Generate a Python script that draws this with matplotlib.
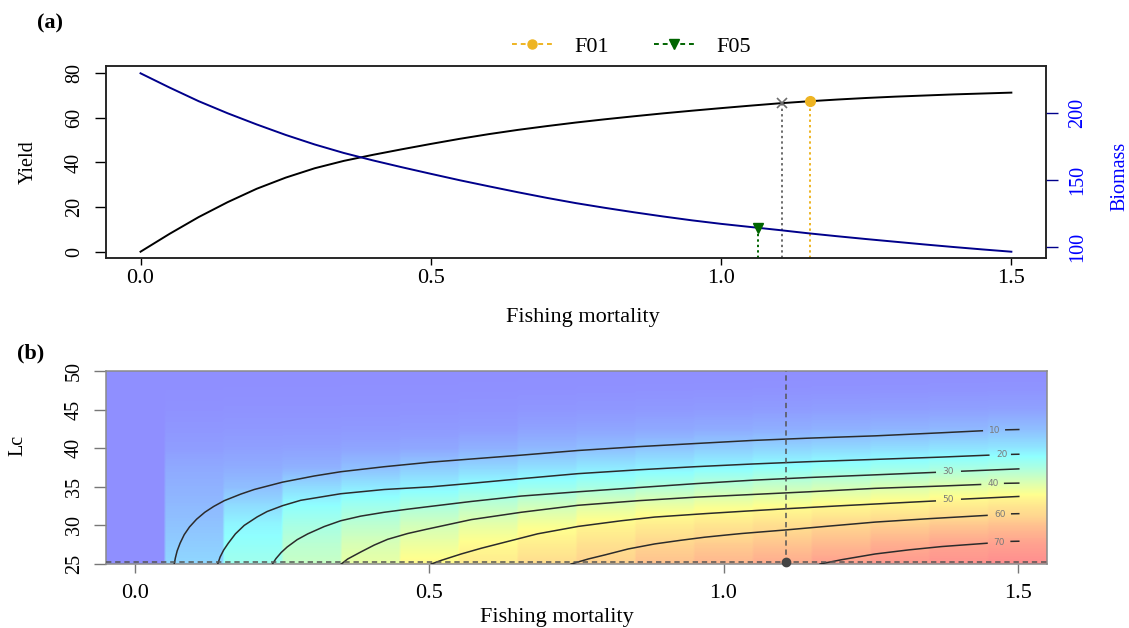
import numpy as np
import matplotlib
matplotlib.use("Agg")
import matplotlib.pyplot as plt
from matplotlib.colors import LinearSegmentedColormap, Normalize
from matplotlib.lines import Line2D

plt.rcParams['font.family'] = 'Liberation Serif'

W, H = 1129, 628


def fx(px):
    return px / W


def fy(py):
    return 1 - py / H


# ---- panel (a): yield and biomass per recruit against F ----
fm = np.linspace(0, 1.5, 31)
yield_pr = [0.0, 8.0, 15.5, 22.2, 28.2, 33.2, 37.4, 40.7, 43.4, 45.9, 48.3,
            50.6, 52.7, 54.6, 56.3, 57.9, 59.35, 60.7, 62.0, 63.2, 64.35,
            65.45, 66.5, 67.4, 68.2, 68.9, 69.5, 70.0, 70.5, 70.9, 71.3]
biomass_pr = [229.3, 218.7, 208.6, 199.6, 191.3, 183.5, 176.4, 170.1, 164.6,
              159.5, 154.6, 149.8, 145.3, 140.9, 136.7, 132.8, 129.3, 126.0,
              122.9, 120.0, 117.4, 115.1, 112.8, 110.4, 108.2, 106.1, 104.1,
              102.1, 100.2, 98.4, 96.7]

fmax, ymax = 1.105, 66.8
f01, y01 = 1.153, 67.6
f05, b05 = 1.063, 114.6

# ---- panel (b): yield isopleths over F and Lc ----
fm_cells = np.linspace(0, 1.5, 16)
lc_rows = [25, 27.5, 30, 32.5, 35, 37.5, 40, 42.5, 45, 47.5, 50]
yield_grid = [
    [0, 14.5, 26.5, 35.5, 43.0, 49.8, 54.0, 58.3, 61.3, 64.0, 66.2, 68.3, 70.7, 72.0, 73.0, 74.0],
    [0, 12.5, 23.6, 32.5, 39.3, 44.2, 49.2, 53.1, 56.8, 60.4, 62.0, 63.6, 65.6, 67.9, 69.9, 70.6],
    [0, 10.5, 20.8, 28.2, 33.3, 38.0, 42.6, 46.7, 50.7, 53.5, 55.7, 57.7, 60.1, 61.5, 63.0, 64.2],
    [0, 8.7, 15.6, 22.5, 26.3, 29.6, 33.5, 37.4, 41.2, 43.8, 46.2, 47.9, 50.0, 51.7, 53.9, 55.5],
    [0, 7.0, 9.6, 15.2, 18.0, 20.0, 23.2, 25.6, 28.1, 30.6, 33.3, 35.6, 37.5, 39.4, 41.6, 42.8],
    [0, 5.4, 6.0, 7.0, 9.7, 12.2, 14.3, 16.3, 18.0, 19.3, 21.2, 22.9, 24.4, 26.0, 27.9, 28.9],
    [0, 3.0, 3.6, 3.8, 4.5, 5.0, 6.8, 8.3, 9.6, 11.1, 12.6, 13.9, 14.8, 15.8, 16.9, 17.5],
    [0, 1.8, 2.0, 2.0, 2.2, 2.4, 2.8, 4.0, 4.6, 5.2, 5.8, 6.4, 7.0, 7.6, 8.3, 9.6],
    [0, 0.8, 1.0, 1.0, 1.0, 1.1, 1.3, 1.7, 2.0, 2.3, 2.6, 2.9, 3.2, 3.4, 3.7, 3.9],
    [0, 0.3, 0.35, 0.35, 0.4, 0.4, 0.5, 0.6, 0.7, 0.8, 0.9, 1.0, 1.1, 1.2, 1.3, 1.4],
    [0, 0, 0, 0, 0, 0, 0, 0.1, 0.1, 0.1, 0.1, 0.1, 0.1, 0.1, 0.1, 0.1],
]

# isopleths: main run up to the label gap
iso_main = {
    10: ([0.066, 0.068, 0.071, 0.076, 0.083, 0.092, 0.104, 0.118, 0.133, 0.151, 0.179,
          0.202, 0.250, 0.304, 0.349, 0.423, 0.503, 0.571, 0.656, 0.752, 0.855, 0.951,
          1.048, 1.144, 1.258, 1.371, 1.440],
         [25.0, 25.8, 26.7, 27.7, 28.8, 29.8, 30.8, 31.7, 32.45, 33.2, 34.05,
          34.65, 35.6, 36.4, 36.95, 37.6, 38.2, 38.6, 39.1, 39.7, 40.2, 40.6,
          41.0, 41.3, 41.6, 42.0, 42.26]),
    20: ([0.140, 0.144, 0.150, 0.158, 0.170, 0.185, 0.207, 0.224, 0.250, 0.281, 0.349,
          0.423, 0.503, 0.571, 0.656, 0.752, 0.855, 0.951, 1.048, 1.144, 1.258, 1.371,
          1.451],
         [25.0, 25.9, 26.8, 27.7, 28.9, 30.0, 31.1, 31.8, 32.55, 33.25, 34.1,
          34.65, 35.0, 35.45, 36.05, 36.7, 37.2, 37.6, 37.95, 38.25, 38.55, 38.85,
          39.1]),
    30: ([0.233, 0.239, 0.248, 0.258, 0.275, 0.293, 0.321, 0.349, 0.383, 0.423, 0.463,
          0.495, 0.571, 0.656, 0.752, 0.855, 0.951, 1.048, 1.144, 1.258, 1.360],
         [25.0, 25.7, 26.5, 27.2, 28.15, 28.9, 29.85, 30.6, 31.2, 31.7, 32.1,
          32.4, 33.1, 33.8, 34.35, 34.9, 35.4, 35.85, 36.2, 36.55, 36.87]),
    40: ([0.350, 0.361, 0.383, 0.406, 0.429, 0.463, 0.495, 0.571, 0.656, 0.752, 0.855,
          0.951, 1.048, 1.144, 1.258, 1.371, 1.437],
         [25.0, 25.65, 26.55, 27.45, 28.2, 28.95, 29.5, 30.75, 31.7, 32.6, 33.2,
          33.65, 34.0, 34.35, 34.8, 35.1, 35.3]),
    50: ([0.503, 0.520, 0.554, 0.588, 0.628, 0.684, 0.753, 0.826, 0.883, 0.968, 1.040,
          1.116, 1.201, 1.286, 1.360],
         [25.0, 25.47, 26.3, 27.04, 27.82, 28.91, 29.87, 30.6, 31.08, 31.52, 31.86,
          32.2, 32.55, 32.88, 33.17]),
    60: ([0.741, 0.770, 0.798, 0.838, 0.883, 0.928, 0.968, 1.008, 1.031, 1.104, 1.178,
          1.258, 1.349, 1.448],
         [25.0, 25.65, 26.17, 26.95, 27.6, 28.08, 28.47, 28.78, 28.95, 29.4, 29.9,
          30.43, 30.87, 31.3]),
    70: ([1.164, 1.201, 1.258, 1.315, 1.371, 1.448],
         [25.0, 25.56, 26.3, 26.83, 27.26, 27.69]),
}
# short piece after the label
iso_tail = {
    10: ([1.480, 1.502], [42.38, 42.42]),
    20: ([1.490, 1.502], [39.2, 39.22]),
    30: ([1.405, 1.502], [37.02, 37.32]),
    40: ([1.478, 1.502], [35.45, 35.48]),
    50: ([1.405, 1.502], [33.4, 33.75]),
    60: ([1.490, 1.502], [31.5, 31.52]),
    70: ([1.489, 1.502], [27.93, 27.95]),
}
iso_label = {
    10: (1.461, 42.3), 20: (1.473, 39.18), 30: (1.382, 36.95), 40: (1.459, 35.4),
    50: (1.382, 33.35), 60: (1.471, 31.39), 70: (1.469, 27.8),
}
f_now, lc_now = 1.106, 25.3

orange = '#EEB422'
green = '#006400'
grey = '#6e6e6e'

fig = plt.figure(figsize=(W / 100, H / 100), dpi=100)

# ================= panel (a) =================
ax1 = fig.add_axes([fx(105.7), fy(258.3), fx(1046.2 - 105.7), (258.3 - 66.3) / H])
ax1.plot(fm, yield_pr, color='black', lw=1.4, zorder=3)
ax1.set_xlim(-0.06, 1.56)
ax1.set_ylim(-2.96, 83.1)
y_bot = ax1.get_ylim()[0]
ax1.plot([fmax, fmax], [y_bot, ymax], color=grey, lw=1.4, ls=(0, (1.2, 1.6)))
ax1.plot(fmax, ymax, 'x', color=grey, ms=6.5, mew=1.2, zorder=4)
ax1.plot([f01, f01], [y_bot, y01], color=orange, lw=1.4, ls=(0, (1.2, 1.6)))
ax1.plot(f01, y01, 'o', color=orange, ms=7, zorder=4)

ax1.set_xticks([0, 0.5, 1.0, 1.5])
ax1.set_xticklabels(['0.0', '0.5', '1.0', '1.5'])
ax1.set_yticks([0, 20, 40, 60, 80])
ax1.set_yticklabels(['0', '20', '40', '60', '80'], rotation=90, va='center')
ax1.tick_params(axis='x', length=5.3, width=1, pad=2.7, labelsize=16)
ax1.tick_params(axis='y', length=8.1, width=1, pad=7.5, labelsize=14.5)

ax2 = ax1.twinx()
ax2.plot(fm, biomass_pr, color='darkblue', lw=1.4, zorder=3)
ax2.set_ylim(91.8, 234.5)
b_bot = ax2.get_ylim()[0]
ax2.plot([f05, f05], [b_bot, b05], color=green, lw=1.4, ls=(0, (1.2, 1.6)))
ax2.plot(f05, b05, 'v', color=green, ms=7.5, zorder=4)
ax2.set_yticks([100, 150, 200])
ax2.set_yticklabels(['100', '150', '200'], rotation=90, va='center')
ax2.tick_params(axis='y', length=8.4, width=1, pad=7.5, labelsize=14.5,
                colors='darkblue', labelcolor='blue')
for ax in (ax1, ax2):
    for s in ax.spines.values():
        s.set_color('#222222')
        s.set_linewidth(1.1)

fig.text(fx(27.9), fy(161.7), 'Yield', rotation=90, ha='center', va='center', fontsize=14.5)
fig.text(fx(1120), fy(176.7), 'Biomass', rotation=90, ha='center', va='center',
         fontsize=14.5, color='blue')
fig.text(fx(583), fy(322), 'Fishing mortality', ha='center', va='baseline', fontsize=16)
fig.text(fx(50), fy(23.5), '(a)', ha='center', va='center', fontsize=16, fontweight='bold')

handles = [Line2D([], [], color=orange, ls=(0, (2.5, 2)), lw=1.4, marker='o', ms=6.5),
           Line2D([], [], color=green, ls=(0, (2.5, 2)), lw=1.4, marker='v', ms=7)]
fig.legend(handles, ['F01', 'F05'], loc='center', bbox_to_anchor=(fx(631.5), fy(46.7)),
           ncol=2, frameon=False, fontsize=16, handlelength=1.8, handletextpad=1.0,
           columnspacing=2.0, borderpad=0, borderaxespad=0)

# ================= panel (b) =================
ax3 = fig.add_axes([fx(106), fy(564), fx(1047 - 106), (564 - 371) / H])
cmap = LinearSegmentedColormap.from_list(
    'ypr', [(0.0, 'blue'), (0.30, 'cyan'), (0.65, 'yellow'), (0.81, 'orange'), (1.0, 'red')])
norm = Normalize(vmin=0, vmax=74)
grid = np.array(yield_grid)
half_lc = (lc_rows[1] - lc_rows[0]) / 2
half_f = (fm_cells[1] - fm_cells[0]) / 2
# each F cell is a flat vertical band, smooth only along Lc
bands = np.repeat(grid, 24, axis=1)
ax3.imshow(bands, extent=(fm_cells[0] - half_f, fm_cells[-1] + half_f,
                          lc_rows[0] - half_lc, lc_rows[-1] + half_lc),
           origin='lower', aspect='auto', interpolation='bilinear',
           interpolation_stage='data', cmap=cmap, norm=norm, alpha=0.44, zorder=1)

for lev, (fs, lcs) in iso_main.items():
    ax3.plot(fs, lcs, color='#2b2b2b', lw=1.1, zorder=3)
    tf, tl = iso_tail[lev]
    ax3.plot(tf, tl, color='#2b2b2b', lw=1.1, zorder=3)
    lx, ly = iso_label[lev]
    ax3.text(lx, ly, str(lev), ha='center', va='center', fontsize=6.5,
             color='#7a7a7a', family='DejaVu Sans', zorder=4)

ax3.axvline(f_now, color='#555555', lw=1.1, ls=(0, (3.5, 2.5)), zorder=5)
ax3.axhline(lc_now, color='#555555', lw=1.1, ls=(0, (3.5, 2.5)), zorder=5)
ax3.plot(f_now, lc_now, 'o', color='#444444', ms=6, zorder=6, clip_on=False)

ax3.set_xlim(-0.05, 1.55)
ax3.set_ylim(25, 50)
ax3.set_xticks([0, 0.5, 1.0, 1.5])
ax3.set_xticklabels(['0.0', '0.5', '1.0', '1.5'])
ax3.set_yticks([25, 30, 35, 40, 45, 50])
ax3.set_yticklabels(['25', '30', '35', '40', '45', '50'], rotation=90, va='center')
ax3.tick_params(axis='x', length=6.5, width=1, pad=8, labelsize=16, color='#777777')
ax3.tick_params(axis='y', length=8.5, width=1, pad=7.5, labelsize=14.5, color='#777777')
for s in ax3.spines.values():
    s.set_color('#8a8a8a')
    s.set_linewidth(1.1)

fig.text(fx(18), fy(445.5), 'Lc', rotation=90, ha='center', va='center', fontsize=14.5)
fig.text(fx(557.3), fy(622), 'Fishing mortality', ha='center', va='baseline', fontsize=16)
fig.text(fx(31), fy(353.3), '(b)', ha='center', va='center', fontsize=16, fontweight='bold')

fig.savefig('out.png', dpi=100)
